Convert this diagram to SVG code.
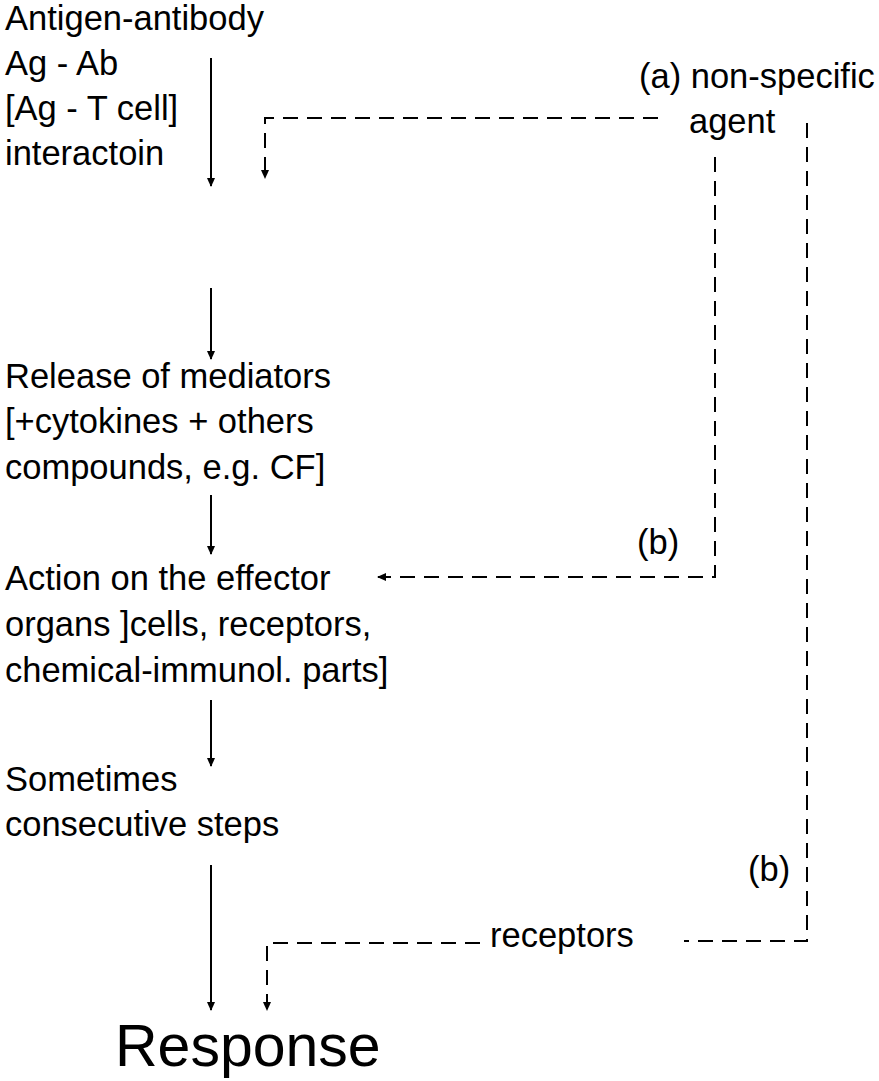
<svg xmlns="http://www.w3.org/2000/svg" width="879" height="1081" viewBox="0 0 879 1081">
<defs>
<style>
text{font-family:"Liberation Sans",Arial,Helvetica,sans-serif;font-size:34.5px;fill:#000}
.big{font-size:59px}
.solid{stroke:#000;stroke-width:2;fill:none}
.dash{stroke:#000;stroke-width:2;fill:none;stroke-dasharray:15 9}
</style>
<marker id="ah" markerWidth="9" markerHeight="9" refX="8" refY="4.5" orient="auto" markerUnits="userSpaceOnUse">
<path d="M0,0.5 L9,4.5 L0,8.5 Z" fill="#000"/>
</marker>
</defs>
<rect width="879" height="1081" fill="#fff"/>
<g id="node-antigen">
<text x="5" y="30">Antigen-antibody</text>
<text x="5" y="75">Ag - Ab</text>
<text x="5" y="120">[Ag - T cell]</text>
<text x="5" y="165">interactoin</text>
</g>
<g id="node-agent">
<text x="639" y="88">(a) non-specific</text>
<text x="689" y="133">agent</text>
</g>
<g id="node-release">
<text x="5" y="388">Release of mediators</text>
<text x="5" y="433">[+cytokines + others</text>
<text x="5" y="479">compounds, e.g. CF]</text>
</g>
<g id="node-action">
<text x="5" y="590">Action on the effector</text>
<text x="5" y="636">organs ]cells, receptors,</text>
<text x="5" y="682">chemical-immunol. parts]</text>
</g>
<g id="node-sometimes">
<text x="5" y="791">Sometimes</text>
<text x="5" y="836">consecutive steps</text>
</g>
<g id="node-receptors">
<text x="490" y="947">receptors</text>
</g>
<g id="label-b1"><text x="637" y="554">(b)</text></g>
<g id="label-b2"><text x="748" y="881">(b)</text></g>
<g id="node-response">
<text class="big" x="115" y="1066">Response</text>
</g>
<g id="connectors">
<path class="solid" d="M211,58 V186" marker-end="url(#ah)"/>
<path class="solid" d="M211,288 V359" marker-end="url(#ah)"/>
<path class="solid" d="M211,495 V554" marker-end="url(#ah)"/>
<path class="solid" d="M211,700 V766" marker-end="url(#ah)"/>
<path class="solid" d="M211,865 V1010" marker-end="url(#ah)"/>
<path class="dash" d="M658,118 H265 V178" marker-end="url(#ah)"/>
<path class="dash" d="M715,157 V577 H378" marker-end="url(#ah)"/>
<path class="dash" d="M807,123 V941 H684"/>
<path class="dash" d="M480,943 H267 V1010" marker-end="url(#ah)"/>
</g>
</svg>
